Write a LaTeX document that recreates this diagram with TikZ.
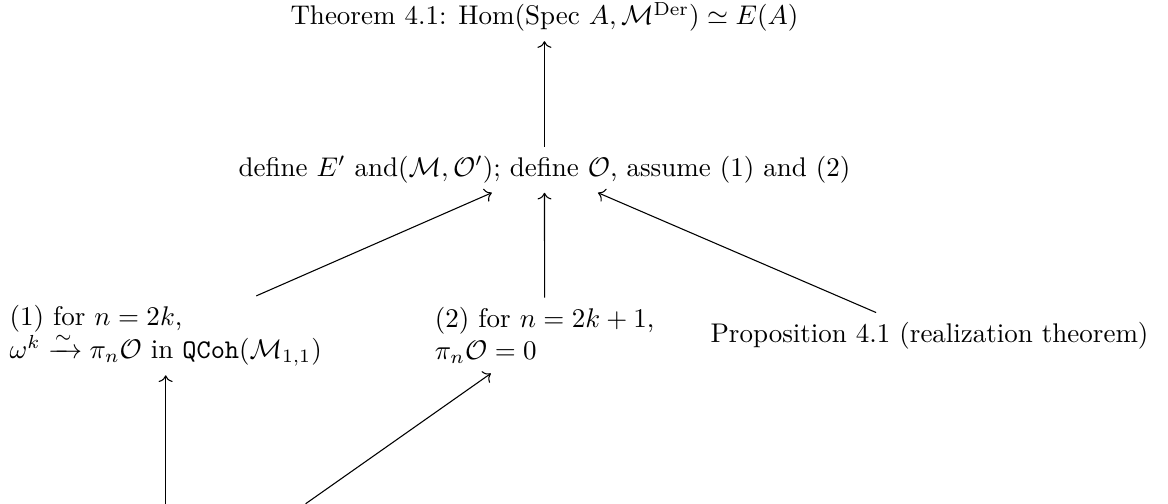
\documentclass[tikz,border=0pt]{standalone}
\usepackage{amsmath}
\usepackage{tikz}
\usetikzlibrary{arrows.meta,positioning}

\begin{document}
\begin{tikzpicture}[
  stmt/.style={align=left},
  dep/.style={->},
  on grid,
]
\useasboundingbox (0,0) rectangle (15.21,-6.56);
\node[stmt] (thm) at (7.09,-0.22) {Theorem 4.1: Hom(Spec $A,\mathcal{M}^{\mathrm{Der}})\simeq E(A)$};
\node[stmt,below=1.99cm of thm] (mid) {define $E'$ and$(\mathcal{M},\mathcal{O}')$; define $\mathcal{O}$, assume (1) and (2)};
\node[stmt,anchor=west] (one) at (0,-4.37) {(1) for $n=2k$,\\ $\omega^k\xrightarrow{\sim}\pi_n\mathcal{O}$ in $\mathtt{QCoh}(\mathcal{M}_{1,1})$};
\node[stmt,anchor=west] (two) at (5.54,-4.37) {(2) for $n=2k+1$,\\ $\pi_n\mathcal{O}=0$};
\node[stmt,anchor=east] (prop) at (15.08,-4.37) {Proposition 4.1 (realization theorem)};
\coordinate (lo1) at (one |- 0,-6.56);
\coordinate (lo2) at (3.98,-6.56);
\draw[dep] (mid) -- (thm);
\draw[dep] (one) -- (mid);
\draw[dep] (two) -- (mid);
\draw[dep] (prop) -- (mid);
\draw[dep] (lo1) -- (one);
\draw[dep] (lo2) -- (two);
\end{tikzpicture}
\end{document}
